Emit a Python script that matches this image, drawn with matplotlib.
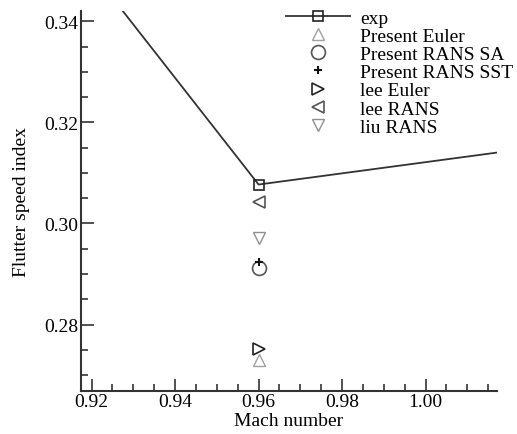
import matplotlib
matplotlib.use("Agg")
from matplotlib import pyplot as plt
from matplotlib.ticker import MultipleLocator, FormatStrFormatter

# experiment (AGARD 445.6 wing)
exp_mach = [0.901, 0.960, 1.072]
exp_fsi = [0.3700, 0.3077, 0.3201]

# computed results at M = 0.96
mach_calc = 0.96
present_euler = 0.2729
present_sa = 0.2912
present_sst = 0.2923
lee_euler = 0.2751
lee_rans = 0.3043
liu_rans = 0.2971

plt.rcParams['font.family'] = ['Liberation Serif', 'DejaVu Serif']
plt.rcParams['font.size'] = 14

fig = plt.figure(figsize=(5.17, 4.35), dpi=100)
ax = fig.add_axes([80.7/517, 43.3/435, (497-80.7)/517, (391.7-11.7)/435])

ax.plot(exp_mach, exp_fsi, color="#333333", lw=1.3, marker="s", ms=7,
        mfc="none", mec="#222222", mew=1.2, label="exp", markevery=[1])
ax.plot([mach_calc], [present_euler], ls="none", marker="^", ms=8, mfc="none",
        mec="#a0a0a0", mew=1.0, label="Present Euler")
ax.plot([mach_calc], [present_sa], ls="none", marker="o", ms=10, mfc="none",
        mec="#555555", mew=1.2, label="Present RANS SA")
ax.plot([mach_calc], [present_sst], ls="none", marker="+", ms=6, color="#111111",
        mew=1.5, label="Present RANS SST")
ax.plot([mach_calc], [lee_euler], ls="none", marker=">", ms=8, mfc="none",
        mec="#222222", mew=1.2, label="lee Euler")
ax.plot([mach_calc], [lee_rans], ls="none", marker="<", ms=8, mfc="none",
        mec="#555555", mew=1.2, label="lee RANS")
ax.plot([mach_calc], [liu_rans], ls="none", marker="v", ms=8, mfc="none",
        mec="#909090", mew=1.0, label="liu RANS")

ax.set_xlim(0.9174, 1.0171)
ax.set_ylim(0.2669, 0.3421)
ax.xaxis.set_major_locator(MultipleLocator(0.02))
ax.xaxis.set_minor_locator(MultipleLocator(0.005))
ax.yaxis.set_major_locator(MultipleLocator(0.02))
ax.yaxis.set_minor_locator(MultipleLocator(0.005))
ax.xaxis.set_major_formatter(FormatStrFormatter('%.2f'))
ax.yaxis.set_major_formatter(FormatStrFormatter('%.2f'))
ax.tick_params(which='both', direction='in', color="#333333", width=1.2, labelsize=14)
ax.tick_params(which='major', length=9, pad=2)
ax.tick_params(which='minor', length=5)
for s in ['top', 'right']:
    ax.spines[s].set_visible(False)
for s in ['left', 'bottom']:
    ax.spines[s].set_linewidth(1.5)
    ax.spines[s].set_color("#333333")

ax.set_xlabel("Mach number", fontsize=14, labelpad=1)
ax.set_ylabel("Flutter speed index", fontsize=14, labelpad=10)

leg = ax.legend(loc='upper left', bbox_to_anchor=(0.47, 1.03), frameon=False,
                fontsize=14, handlelength=3.3, handletextpad=0.5,
                labelspacing=0.03, borderpad=0)

fig.savefig("out.png", dpi=100)
